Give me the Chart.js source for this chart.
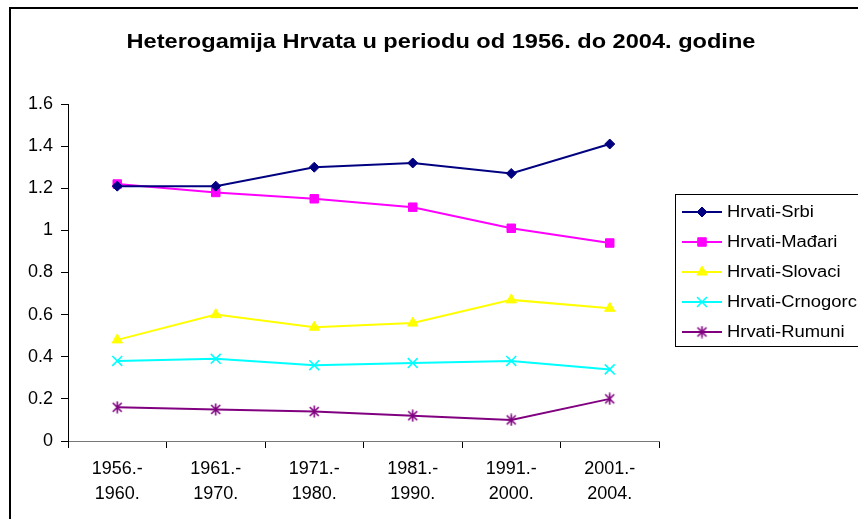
<!DOCTYPE html>
<html>
<head>
<meta charset="utf-8">
<title>Heterogamija Hrvata</title>
<script src="https://cdn.jsdelivr.net/npm/chart.js@4/dist/chart.umd.min.js"></script>
<style>
  html, body { margin: 0; padding: 0; background: #fff; }
  #wrap { width: 858px; height: 519px; }
</style>
</head>
<body>
<div id="wrap"><canvas id="chart" width="858" height="519"></canvas></div>
<script>
// data
const chartTitle = 'Heterogamija Hrvata u periodu od 1956. do 2004. godine';
const periods = [
    ['1956.-', '1960.'],
    ['1961.-', '1970.'],
    ['1971.-', '1980.'],
    ['1981.-', '1990.'],
    ['1991.-', '2000.'],
    ['2001.-', '2004.']
];
const yTickLabels = ['0', '0.2', '0.4', '0.6', '0.8', '1', '1.2', '1.4', '1.6'];
const seriesNames = ['Hrvati-Srbi', 'Hrvati-Mađari', 'Hrvati-Slovaci', 'Hrvati-Crnogorci', 'Hrvati-Rumuni'];
const srbi = [1.21, 1.21, 1.30, 1.32, 1.27, 1.41];
const madari = [1.22, 1.18, 1.15, 1.11, 1.01, 0.94];
const slovaci = [0.48, 0.60, 0.54, 0.56, 0.67, 0.63];
const crnogorci = [0.38, 0.39, 0.36, 0.37, 0.38, 0.34];
const rumuni = [0.16, 0.15, 0.14, 0.12, 0.10, 0.20];

const FONT = '"Liberation Sans", Arial, sans-serif';
const TEXT_STRETCH = 1.15; // the original text is a bit wide

// asterisk marker (X with a vertical bar), like the Excel one
function makeAsterisk(color) {
    const c = document.createElement('canvas');
    c.width = 13;
    c.height = 13;
    const g = c.getContext('2d');
    g.strokeStyle = color;
    g.lineWidth = 1.6;
    g.beginPath();
    g.moveTo(2, 2); g.lineTo(11, 11);
    g.moveTo(11, 2); g.lineTo(2, 11);
    g.moveTo(6.5, 0.5); g.lineTo(6.5, 12.5);
    g.stroke();
    return c;
}

function makeSeries(label, data, color, style, radius, borderWidth) {
    return {
        label: label,
        data: data,
        borderColor: color,
        backgroundColor: color,
        borderWidth: 2,
        tension: 0,
        pointStyle: style,
        pointRadius: radius,
        pointHoverRadius: radius,
        pointBackgroundColor: color,
        pointBorderColor: color,
        pointBorderWidth: borderWidth
    };
}

const datasets = [
    makeSeries(seriesNames[0], srbi, '#000080', 'rectRot', 5, 1),
    makeSeries(seriesNames[1], madari, '#FF00FF', 'rect', 6, 1),
    makeSeries(seriesNames[2], slovaci, '#FFFF00', 'triangle', 6, 1),
    makeSeries(seriesNames[3], crnogorci, '#00FFFF', 'crossRot', 7, 1.6),
    makeSeries(seriesNames[4], rumuni, '#800080', makeAsterisk('#800080'), 6, 1)
];

function stretchedText(ctx, text, x, y) {
    ctx.save();
    ctx.translate(x, y);
    ctx.scale(TEXT_STRETCH, 1);
    ctx.fillText(text, 0, 0);
    ctx.restore();
}

// frame, title and legend box drawn on top of the chart
const decorPlugin = {
    id: 'decor',
    afterDraw(chart) {
        const ctx = chart.ctx;
        ctx.save();

        // outer frame (right and bottom edges fall outside the picture)
        ctx.strokeStyle = '#000';
        ctx.lineWidth = 2;
        ctx.strokeRect(10, 8, 900, 600);

        // title
        ctx.fillStyle = '#000';
        ctx.font = 'bold 20.5px ' + FONT;
        ctx.textAlign = 'center';
        ctx.textBaseline = 'alphabetic';
        stretchedText(ctx, chartTitle, 441, 47.5);

        // legend
        ctx.lineWidth = 1;
        ctx.strokeStyle = '#000';
        ctx.strokeRect(675.5, 194.5, 220, 152);
        ctx.font = '16px ' + FONT;
        ctx.textAlign = 'left';
        ctx.textBaseline = 'middle';
        chart.data.datasets.forEach((ds, i) => {
            const y = 212 + i * 30;
            ctx.strokeStyle = ds.borderColor;
            ctx.lineWidth = 2;
            ctx.beginPath();
            ctx.moveTo(682, y);
            ctx.lineTo(722, y);
            ctx.stroke();
            ctx.fillStyle = ds.pointBackgroundColor;
            ctx.strokeStyle = ds.pointBorderColor;
            ctx.lineWidth = ds.pointBorderWidth;
            Chart.helpers.drawPoint(ctx, {
                pointStyle: ds.pointStyle,
                radius: ds.pointRadius,
                rotation: 0,
                borderWidth: ds.pointBorderWidth
            }, 702, y);
            ctx.fillStyle = '#000';
            stretchedText(ctx, ds.label, 727, y + 1);
        });

        ctx.restore();
    }
};

const ctx = document.getElementById('chart');
new Chart(ctx, {
    type: 'line',
    data: {
        labels: periods,
        datasets: datasets
    },
    options: {
        responsive: false,
        animation: false,
        devicePixelRatio: 1,
        layout: {
            padding: { top: 104, right: 199, bottom: 0, left: 0 }
        },
        plugins: {
            legend: { display: false },
            title: { display: false },
            tooltip: { enabled: false }
        },
        scales: {
            x: {
                offset: true,
                afterFit(scale) { scale.height = 78; },
                grid: {
                    offset: true,
                    drawOnChartArea: false,
                    drawTicks: true,
                    tickLength: 7,
                    color: '#000'
                },
                border: { display: true, color: '#777', width: 1 },
                ticks: {
                    color: '#000',
                    padding: 9,
                    maxRotation: 0,
                    autoSkip: false,
                    font: { family: FONT, size: 18, lineHeight: 1.39 }
                }
            },
            y: {
                min: 0,
                max: 1.6,
                afterFit(scale) { scale.width = 68; },
                grid: {
                    drawOnChartArea: false,
                    drawTicks: true,
                    tickLength: 7,
                    color: '#000'
                },
                border: { display: true, color: '#000', width: 1 },
                ticks: {
                    stepSize: 0.2,
                    color: '#000',
                    padding: 8,
                    font: { family: FONT, size: 18 },
                    callback: function(value) {
                        return yTickLabels[Math.round(value / 0.2)];
                    }
                }
            }
        }
    },
    plugins: [decorPlugin]
});
</script>
</body>
</html>
